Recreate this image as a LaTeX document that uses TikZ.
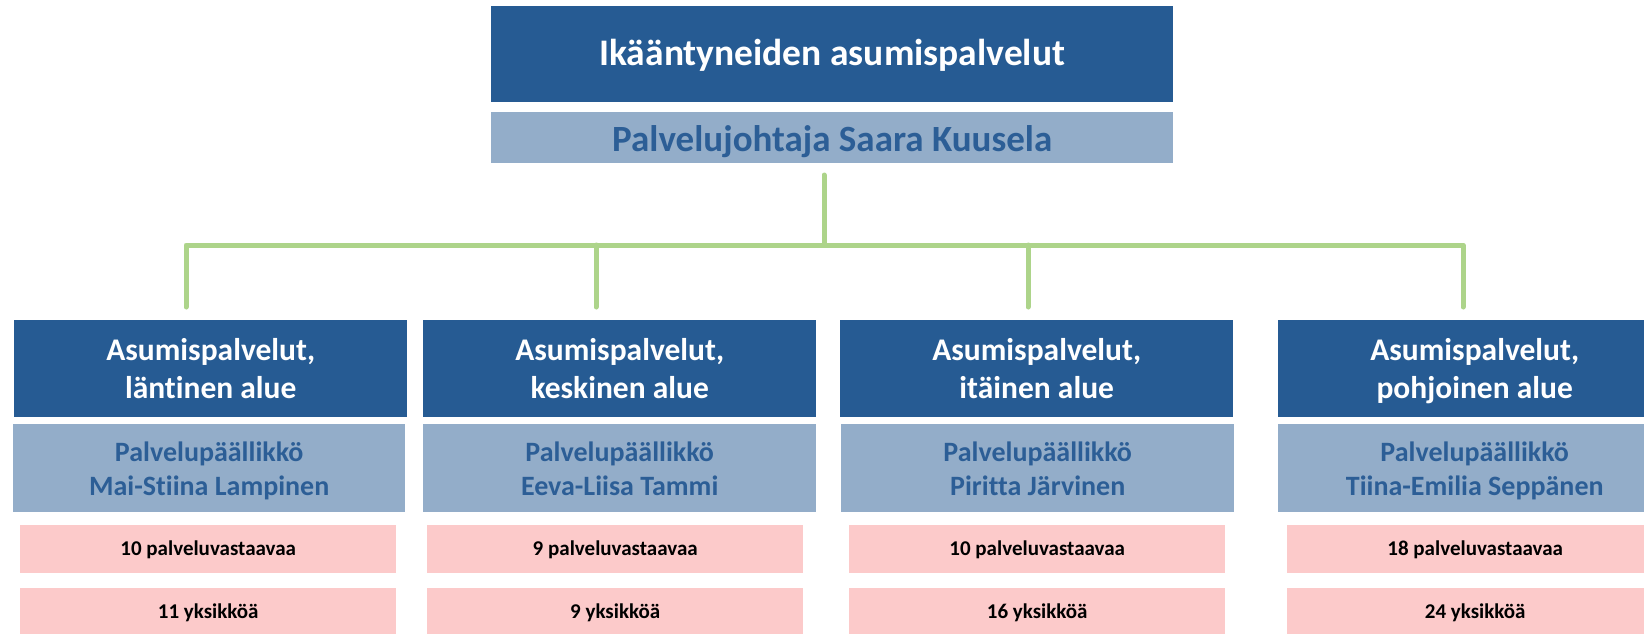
\documentclass[tikz,border=0pt]{standalone}
\usepackage{fontspec}
\setmainfont{Carlito}[Ligatures=CommonOff]
\definecolor{dblue}{RGB}{38,91,147}
\definecolor{lblue}{RGB}{147,173,201}
\definecolor{tblue}{RGB}{44,94,150}
\definecolor{pinkb}{RGB}{252,202,202}
\definecolor{lgreen}{RGB}{173,212,138}
\newcommand\dstr{\rule[-8pt]{0pt}{37pt}}
\newcommand\lstr{\rule[-7pt]{0pt}{34pt}}
\newcommand\pstr{\rule[-6pt]{0pt}{24pt}}
\newcommand\tstr{\rule[-9pt]{0pt}{40pt}}
\newcommand\sstr{\rule[-9pt]{0pt}{45pt}}
\begin{document}
\begin{tikzpicture}[x=1pt,y=-1pt,
  base/.style={rectangle, inner sep=0pt, anchor=north west, align=center, font=\bfseries},
  titlebox/.style={base, fill=dblue, text=white, font=\bfseries\fontsize{37.5}{44}\selectfont, minimum width=682pt, minimum height=96pt},
  subbox/.style={base, fill=lblue, text=tblue, font=\bfseries\fontsize{37}{44}\selectfont, minimum width=682pt, minimum height=51pt},
  areabox/.style={base, fill=dblue, text=white, font=\bfseries\fontsize{31.5}{38}\selectfont, minimum width=393pt, minimum height=97pt},
  chiefbox/.style={base, fill=lblue, text=tblue, font=\bfseries\fontsize{28}{34}\selectfont, minimum width=393pt, minimum height=88pt},
  countbox/.style={base, fill=pinkb, text=black, font=\bfseries\fontsize{21}{25}\selectfont, minimum width=376pt, minimum height=48pt},
  conn/.style={draw=lgreen, line width=5pt, line cap=round, line join=round}]
\useasboundingbox (0,0) rectangle (1644,634);
\clip (0,0) rectangle (1644,634);

\node[titlebox] (title) at (491,6) {\tstr Ikääntyneiden asumispalvelut};
\node[subbox] (sub) at (491,112) {\sstr Palvelujohtaja Saara Kuusela};

\node[areabox] (a1) at (14,320) {\dstr Asumispalvelut,\\\dstr läntinen alue};
\node[areabox] (a2) at (423,320) {\dstr Asumispalvelut,\\\dstr keskinen alue};
\node[areabox] (a3) at (840,320) {\dstr Asumispalvelut,\\\dstr itäinen alue};
\node[areabox] (a4) at (1278,320) {\dstr Asumispalvelut,\\\dstr pohjoinen alue};

\node[chiefbox, minimum width=392pt] (c1) at (13,424) {\lstr Palvelupäällikkö\\\lstr Mai-Stiina Lampinen};
\node[chiefbox] (c2) at (423,424) {\lstr Palvelupäällikkö\\\lstr Eeva-Liisa Tammi};
\node[chiefbox] (c3) at (841,424) {\lstr Palvelupäällikkö\\\lstr Piritta Järvinen};
\node[chiefbox] (c4) at (1278,424) {\lstr Palvelupäällikkö\\\lstr Tiina-Emilia Seppänen};

\node[countbox] (p1) at (20,525) {\pstr 10 palveluvastaavaa};
\node[countbox] (p2) at (427,525) {\pstr 9 palveluvastaavaa};
\node[countbox] (p3) at (849,525) {\pstr 10 palveluvastaavaa};
\node[countbox] (p4) at (1287,525) {\pstr 18 palveluvastaavaa};

\node[countbox] (u1) at (20,588) {\pstr 11 yksikköä};
\node[countbox] (u2) at (427,588) {\pstr 9 yksikköä};
\node[countbox] (u3) at (849,588) {\pstr 16 yksikköä};
\node[countbox] (u4) at (1287,588) {\pstr 24 yksikköä};

\coordinate (s0) at (824,175);
\coordinate (hub) at (824,245);
\coordinate (k1) at (186,245);
\coordinate (k2) at (596,245);
\coordinate (k3) at (1028,245);
\coordinate (k4) at (1463,245);
\coordinate (e1) at (186,307);
\coordinate (e2) at (596,307);
\coordinate (e3) at (1028,307);
\coordinate (e4) at (1463,307);

\draw[conn] (s0) -- (hub);
\draw[conn] (e1) -- (k1) -- (k4) -- (e4);
\draw[conn] (k2) -- (e2);
\draw[conn] (k3) -- (e3);
\end{tikzpicture}
\end{document}
